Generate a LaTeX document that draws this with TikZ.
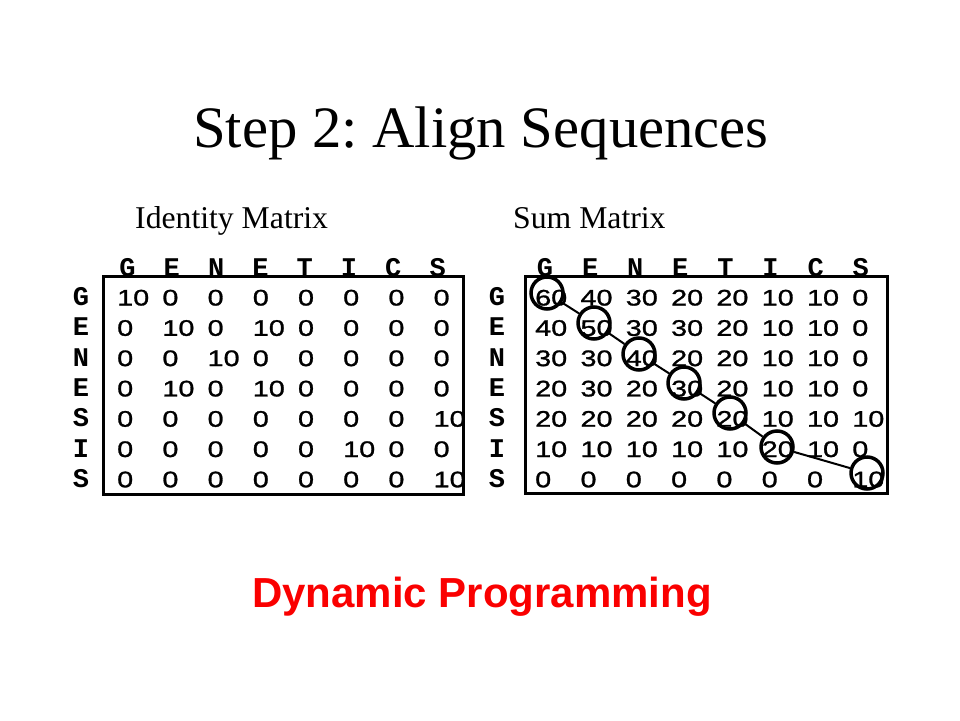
\documentclass[tikz,border=0pt]{standalone}
\usepackage{fontspec}
\setmainfont{Liberation Serif}
\setsansfont{Liberation Sans}
\setmonofont{Liberation Mono}
\newfontfamily\cellfont[FakeStretch=1.28,FakeBold=1.2]{Liberation Sans}
\usetikzlibrary{positioning}
\definecolor{dpred}{RGB}{250,0,0}
\frenchspacing
\tikzset{every node/.append style={inner sep=0pt}}
\tikzset{
  cell/.style={anchor=base west, font=\cellfont\fontsize{22.5}{22.5}\selectfont},
  seqlbl/.style={anchor=base, font=\ttfamily\bfseries\fontsize{27}{27}\selectfont},
  pick/.style={circle, draw, line width=3.5pt, minimum size=32pt},
  heading/.style={anchor=base west, font=\fontsize{31.7}{32}\selectfont},
}

\begin{document}
\begin{tikzpicture}[x=1pt,y=-1pt]
  \useasboundingbox (0,0) rectangle (960,720);
  \pgfmathsetmacro{\xI}{117}
  \pgfmathsetmacro{\xS}{535}

  \node[anchor=base west, font=\fontsize{58.7}{60}\selectfont] (title) at (193,147) {Step 2: Align Sequences};
  \node[heading] (idlbl) at (135,228) {Identity Matrix};
  \node[heading] (smlbl) at (513,228) {Sum Matrix};

  \draw[line width=3pt] (103,276) rectangle (463,494);
  \draw[line width=3pt] (525,276) rectangle (887,493);

  \foreach \l [count=\c] in {G,E,N,E,T,I,C,S}{
               \node[seqlbl] (idcol\c) at ({127.5+(\c-1)*44.3},276) {\l};
               \node[seqlbl] (smcol\c) at ({545+(\c-1)*45.1},276) {\l};
};
  \foreach \l [count=\r] in {G,E,N,E,S,I,S}{
               \node[seqlbl] (idrow\r) at (81,{305.5+(\r-1)*30.3}) {\l};
               \node[seqlbl] (smrow\r) at (497,{305.5+(\r-1)*30.3}) {\l};
};

  % identity matrix
  \foreach \vals [count=\r] in {{10,0,0,0,0,0,0,0},{0,10,0,10,0,0,0,0},
      {0,0,10,0,0,0,0,0},{0,10,0,10,0,0,0,0},{0,0,0,0,0,0,0,10},
      {0,0,0,0,0,10,0,0},{0,0,0,0,0,0,0,10}}{
    \foreach \v [count=\c] in \vals
      \node[cell] (id-\r-\c) at ({\xI+(\c-1)*45.2},{305.5+(\r-1)*30.3}) {\v};
};

  % sum matrix
  \foreach \vals [count=\r] in {{60,40,30,20,20,10,10,0},{40,50,30,30,20,10,10,0},
      {30,30,40,20,20,10,10,0},{20,30,20,30,20,10,10,0},{20,20,20,20,20,10,10,10},
      {10,10,10,10,10,20,10,0},{0,0,0,0,0,0,0,10}}{
    \foreach \v [count=\c] in \vals
      \node[cell] (sm-\r-\c) at ({\xS+(\c-1)*45.3},{305.5+(\r-1)*30.3}) {\v};
};

  % traceback
  \node[pick] (c1) at (547,293) {};
  \node[pick] (c2) at (594,323) {};
  \node[pick] (c3) at (639,354) {};
  \node[pick] (c4) at (684,383) {};
  \node[pick] (c5) at (730,413) {};
  \node[pick] (c6) at (777,447) {};
  \node[pick] (c7) at (867,473) {};
  \foreach \a/\b in {1/2,2/3,3/4,4/5,5/6,6/7}
               \draw[line width=2pt] (c\a)--(c\b);

  \node[anchor=base west, font=\sffamily\bfseries\fontsize{42}{42}\selectfont, text=dpred] (dp) at (252,607) {Dynamic Programming};
\end{tikzpicture}
\end{document}
